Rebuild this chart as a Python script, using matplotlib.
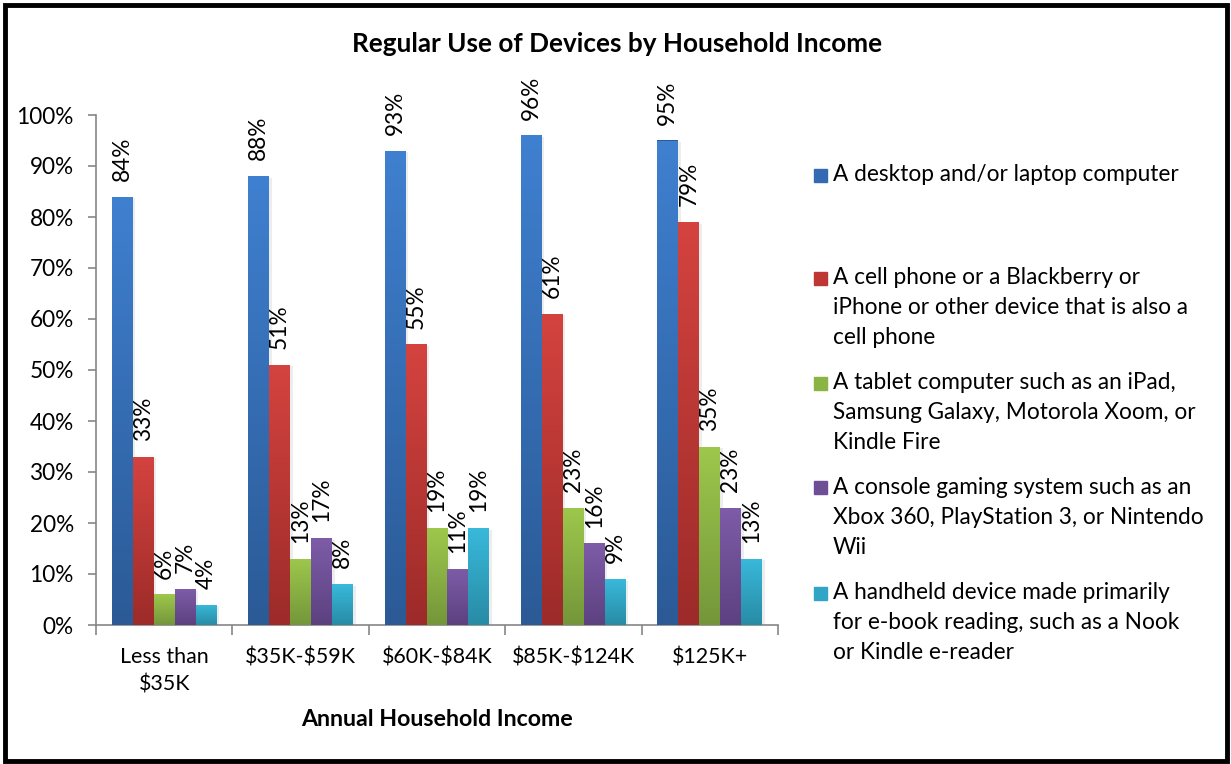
import matplotlib
matplotlib.use("Agg")
import matplotlib.pyplot as plt
import numpy as np
from matplotlib.colors import LinearSegmentedColormap
from matplotlib.patches import Rectangle

plt.rcParams['font.family'] = ['Lato', 'DejaVu Sans']
plt.rcParams['text.parse_math'] = False

categories = ["Less than\n$35K", "$35K-$59K", "$60K-$84K", "$85K-$124K", "$125K+"]
series_labels = [
    "A desktop and/or laptop computer",
    "A cell phone or a Blackberry or\niPhone or other device that is also a\ncell phone",
    "A tablet computer such as an iPad,\nSamsung Galaxy, Motorola Xoom, or\nKindle Fire",
    "A console gaming system such as an\nXbox 360, PlayStation 3, or Nintendo\nWii",
    "A handheld device made primarily\nfor e-book reading, such as a Nook\nor Kindle e-reader",
]
desktop = [84, 88, 93, 96, 95]
cellphone = [33, 51, 55, 61, 79]
tablet = [6, 13, 19, 23, 35]
console = [7, 17, 11, 16, 23]
ereader = [4, 8, 19, 9, 13]
series_values = [desktop, cellphone, tablet, console, ereader]
y_ticks = [0, 10, 20, 30, 40, 50, 60, 70, 80, 90, 100]

# top / bottom shades of each series' vertical gradient
shades = [
    ("#3F80D0", "#2B5A96"),
    ("#D4433F", "#9C2B29"),
    ("#9DC84C", "#74963A"),
    ("#7E5CA8", "#5C4180"),
    ("#39B9DB", "#288BA5"),
]
legend_colors = ["#3469B4", "#BE3734", "#8AB443", "#6E4F96", "#31A5C5"]

W, H = 1231, 764
fig = plt.figure(figsize=(W / 100, H / 100), dpi=100)
ax = fig.add_axes([96 / W, 1 - 625 / H, (778 - 96) / W, (625 - 115) / H])

n = len(series_values)
bar_w = 1 / 6.5
x = np.arange(len(categories))
fs = 16.3

for i, (vals, (top_c, bot_c)) in enumerate(zip(series_values, shades)):
    offs = (i - (n - 1) / 2) * bar_w
    bars = ax.bar(x + offs, vals, width=bar_w, color=bot_c, zorder=2)
    cmap = LinearSegmentedColormap.from_list(f"g{i}", [bot_c, top_c])
    grad = np.linspace(0, 1, 256).reshape(-1, 1)
    for b, v in zip(bars, vals):
        x0 = b.get_x()
        # soft drop shadow to the right
        ax.add_patch(Rectangle((x0 + bar_w * 0.12, 0), bar_w, v - 0.3,
                               color="#000000", alpha=0.07, lw=0, zorder=1))
        im = ax.imshow(grad, extent=[x0, x0 + bar_w, 0, v], origin="lower",
                       aspect="auto", cmap=cmap, zorder=3)
        im.set_clip_path(b)
        ax.text(x0 + bar_w / 2, v + 3.1, f"{v}%", rotation=90, ha="center",
                va="bottom", fontsize=fs, color="#000000", zorder=4)

ax.set_xlim(-0.5, len(categories) - 0.5)
ax.set_ylim(0, 100)
ax.set_yticks(y_ticks)
ax.set_yticklabels([f"{t}%" for t in y_ticks], fontsize=fs)
ax.set_xticks(x)
ax.set_xticklabels(categories, fontsize=15.4, linespacing=1.45)
ax.set_xticks(np.arange(len(categories) + 1) - 0.5, minor=True)
ax.tick_params(axis="x", which="major", length=0, pad=16)
ax.tick_params(axis="x", which="minor", length=7, color="#868686", width=1.2)
ax.tick_params(axis="y", length=6, color="#868686", width=1.2, pad=10)

for s in ["top", "right"]:
    ax.spines[s].set_visible(False)
for s in ["left", "bottom"]:
    ax.spines[s].set_color("#868686")
    ax.spines[s].set_linewidth(1.2)

fig.text(617 / W, 1 - 44 / H, "Regular Use of Devices by Household Income",
         ha="center", va="center", fontsize=18.8, fontweight="bold")
fig.text(437 / W, 1 - 720 / H, "Annual Household Income",
         ha="center", va="center", fontsize=16.7, fontweight="bold")

# legend drawn entry by entry
legend_tops = [175, 278, 383, 488, 593]
for label, col, yc in zip(series_labels, legend_colors, legend_tops):
    fig.patches.append(Rectangle((814 / W, 1 - (yc + 6.5) / H), 13 / W, 13 / H,
                                 transform=fig.transFigure, color=col,
                                 figure=fig))
    fig.text(833 / W, 1 - (yc - 11) / H, label, ha="left", va="top",
             fontsize=fs, linespacing=1.52)

# outer frame
fig.patches.append(Rectangle((5 / W, 3 / H), (W - 9) / W, (H - 8) / H,
                             transform=fig.transFigure, fill=False,
                             ec="#000000", lw=3.5, figure=fig))

fig.savefig("out.png", dpi=100)
